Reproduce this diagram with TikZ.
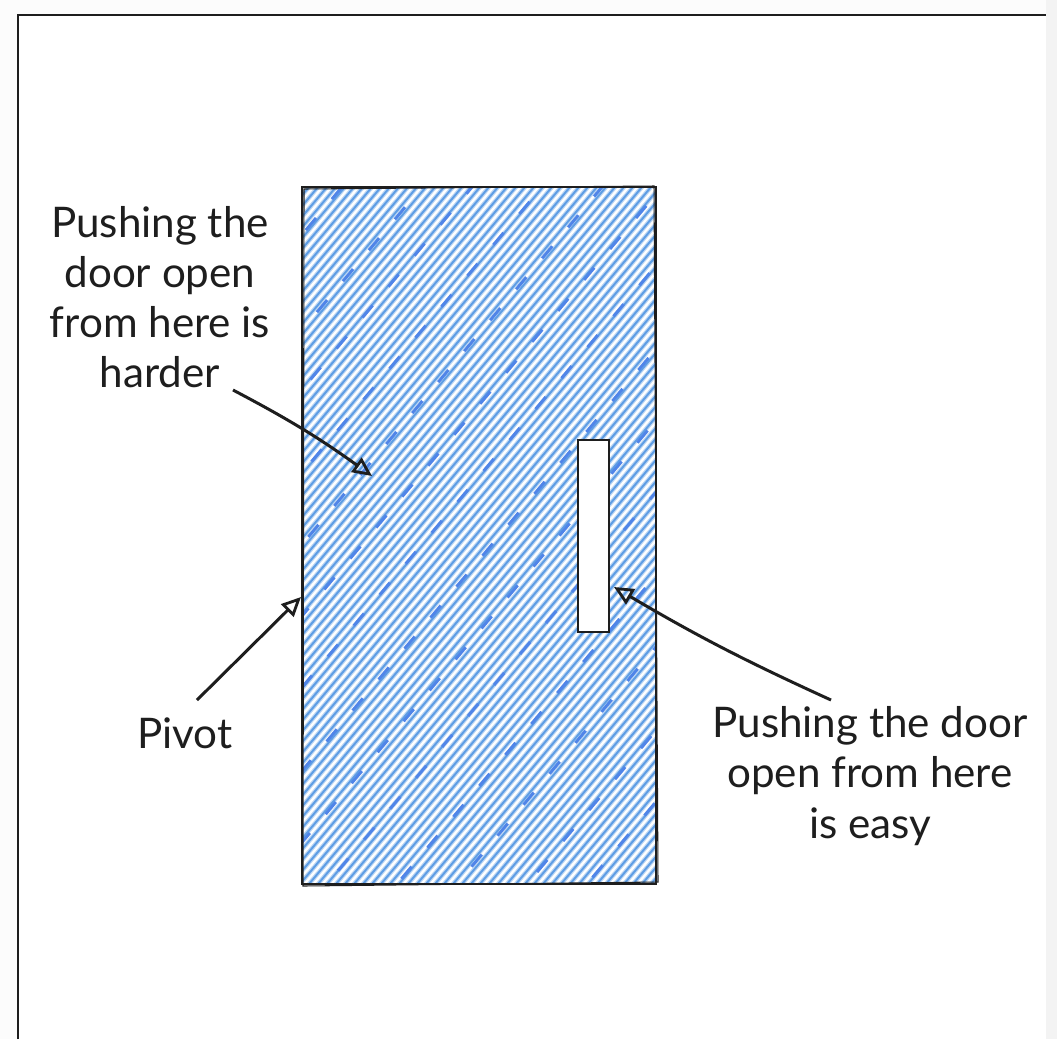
\documentclass[tikz,border=0pt]{standalone}
\usepackage{fontspec}
\setmainfont{Lato}
\usetikzlibrary{arrows.meta}
\definecolor{pagebg}{HTML}{FCFCFC}
\definecolor{stripbg}{HTML}{F3F3F3}
\definecolor{hatchbg}{HTML}{BCD6F4}
\definecolor{hatchblue}{HTML}{5E9DE4}
\definecolor{ink}{HTML}{1E1E1E}
\tikzset{
  label/.style={align=center, font=\fontsize{24}{28.5}\selectfont, text=ink, inner sep=0pt},
  pointer/.style={draw=ink, line width=1.7pt, -{Triangle[open,length=11pt,width=10pt,line width=1.6pt]}},
  doorline/.style={draw=ink, line width=1.2pt},
}
\begin{document}
\begin{tikzpicture}[x=0.02cm,y=-0.02cm]
\useasboundingbox (0,0) rectangle (1057,1039);
\fill[pagebg] (0,0) rectangle (1057,1039);
\fill[stripbg] (1046,0) rectangle (1057,1039);
\fill[white] (18,15) rectangle (1046,1039);
% frame
\draw[ink, line width=1.2pt] (18,1039) -- (18,15) -- (1046,15);
% door hatching
\begin{scope}
  \clip (302,187) rectangle (656,884);
  \fill[hatchbg] (302,187) rectangle (656,884);
  \foreach \k in {300,309,...,1260} {
    \draw[hatchblue, line width=1.1pt] (\k,187) -- (\k-585,884);
    \draw[white, line width=1.3pt] (\k+4.5,187) -- (\k-580.5,884);
  }
  \foreach \k/\d in {340/0,420/8,470/4,540/12,600/2,660/9,720/5,790/11,850/3,910/7,980/1,1040/10,1110/6,1170/2,1230/8} {
    \draw[hatchblue!85!blue, line width=1.7pt, dash pattern=on 9pt off 14pt, dash phase=\d pt] (\k+2,187) -- (\k-583,884);
  }
\end{scope}
% door outline (sketchy double stroke)
\draw[doorline] (302,187) rectangle (656,884);
\draw[doorline, line width=0.6pt] (304,189) -- (654,186) -- (658,882) -- (303,886) -- cycle;
% handle
\node[draw=ink, fill=white, line width=1.6pt, minimum width=31*0.02cm, minimum height=192*0.02cm, inner sep=0pt] (handle) at (593.5,536) {};
% labels
\node[label] (harder) at (160,297) {Pushing the\\door open\\from here is\\harder};
\node[label] (pivot) at (185,733) {Pivot};
\node[label] (easy) at (870,776) {Pushing the door\\open from here\\is easy};
% arrow ends
\coordinate (hardertip) at (372,476);
\coordinate (hardertail) at (233,390);
\coordinate (pivottip) at (301,597);
\coordinate (pivottail) at (197,700);
\coordinate (easytip) at (614,587);
\coordinate (easytail) at (831,700);
\draw[pointer] (hardertail) to[bend left=4] (hardertip);
\draw[pointer] (pivottail) -- (pivottip);
\draw[pointer] (easytail) to[bend left=3] (easytip);
\end{tikzpicture}
\end{document}
